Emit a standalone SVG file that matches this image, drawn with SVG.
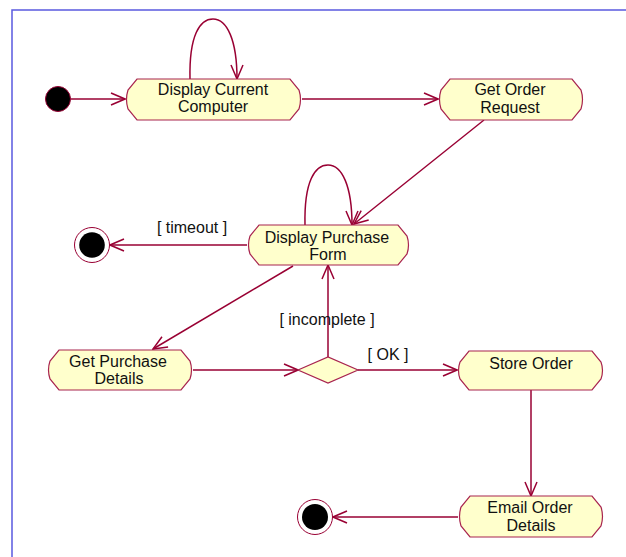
<svg xmlns="http://www.w3.org/2000/svg" width="626" height="557" viewBox="0 0 626 557">
  <style>
    .node { fill: #ffffcc; stroke: #a8244f; stroke-width: 1.2; }
    .lbl { font-family: "Liberation Sans", Arial, sans-serif; font-size: 16px; fill: #111; text-anchor: middle; }
    .edge { fill: none; stroke: #990033; stroke-width: 1.5; }
    .edge-end { marker-end: url(#open); }
  </style>
  <defs>
    <marker id="open" viewBox="0 0 16 14" refX="15" refY="7" markerWidth="16" markerHeight="14" markerUnits="userSpaceOnUse" orient="auto">
      <path d="M1,1 L15,7 L1,13" fill="none" stroke="#990033" stroke-width="1.5"/>
    </marker>
  </defs>
  <rect width="626" height="557" fill="#ffffff"/>
  <!-- diagram frame (only top and left edges fall inside the page) -->
  <rect x="12" y="10" width="700" height="700" fill="none" stroke="#5a5ae0" stroke-width="1.5"/>

  <g id="connectors">
    <path class="edge edge-end" d="M71,99 H125"/>
    <path class="edge edge-end" d="M302,99 H438"/>
    <path class="edge edge-end" d="M190,79 C189,35 200,19 213,19 C227,19 237,40 237,79"/>
    <path class="edge edge-end" d="M484,120 L354,224"/>
    <path class="edge edge-end" d="M305,225 C304,181 315,165 328,165 C342,165 352,186 352,225"/>
    <path class="edge edge-end" d="M247,245 H110"/>
    <path class="edge edge-end" d="M293,266 L153,349"/>
    <path class="edge edge-end" d="M193,370 H298"/>
    <path class="edge edge-end" d="M328,357 V265"/>
    <path class="edge edge-end" d="M358,370 H457"/>
    <path class="edge edge-end" d="M531,390 V496"/>
    <path class="edge edge-end" d="M458,517 H333"/>
    <text class="lbl" x="192" y="233">[ timeout ]</text>
    <text class="lbl" x="327" y="325">[ incomplete ]</text>
    <text class="lbl" x="388" y="360">[ OK ]</text>
  </g>

  <g id="start">
    <circle cx="58" cy="99" r="12.5" fill="#000" stroke="#990033" stroke-width="1"/>
  </g>

  <g id="display-current-computer">
    <path class="node" d="M137,79 H290 L299,90 Q302,99.5 299,109 L290,120 H137 L128,109 Q125,99.5 128,90 Z"/>
    <text class="lbl" x="213" y="95">Display Current</text>
    <text class="lbl" x="213" y="112">Computer</text>
  </g>

  <g id="get-order-request">
    <path class="node" d="M450,79 H572 L581,90 Q584,99.5 581,109 L572,120 H450 L441,109 Q438,99.5 441,90 Z"/>
    <text class="lbl" x="510" y="95">Get Order</text>
    <text class="lbl" x="510" y="112.5">Request</text>
  </g>

  <g id="display-purchase-form">
    <path class="node" d="M259,225 H398 L407,236 Q410,245 407,254 L398,265 H259 L250,254 Q247,245 250,236 Z"/>
    <text class="lbl" x="327" y="243">Display Purchase</text>
    <text class="lbl" x="328" y="260">Form</text>
  </g>

  <g id="final-timeout">
    <circle cx="92" cy="245" r="17.5" fill="#fff" stroke="#990033" stroke-width="1"/>
    <circle cx="92" cy="245" r="12.8" fill="#000"/>
  </g>

  <g id="get-purchase-details">
    <path class="node" d="M59,350 H181 L190,361 Q193,370 190,379 L181,390 H59 L50,379 Q47,370 50,361 Z"/>
    <text class="lbl" x="118" y="367">Get Purchase</text>
    <text class="lbl" x="119" y="384">Details</text>
  </g>

  <g id="decision">
    <path class="node" d="M298,370 L328,357 L358,370 L328,383 Z"/>
  </g>

  <g id="store-order">
    <path class="node" d="M469,351 H592 L601,362 Q604,370.5 601,379 L592,390 H469 L460,379 Q457,370.5 460,362 Z"/>
    <text class="lbl" x="531" y="369">Store Order</text>
  </g>

  <g id="email-order-details">
    <path class="node" d="M470,496 H592 L601,507 Q604,516.5 601,526 L592,537 H470 L461,526 Q458,516.5 461,507 Z"/>
    <text class="lbl" x="530" y="513">Email Order</text>
    <text class="lbl" x="531" y="531">Details</text>
  </g>

  <g id="final-done">
    <circle cx="315" cy="517" r="17.5" fill="#fff" stroke="#990033" stroke-width="1"/>
    <circle cx="315" cy="517" r="13" fill="#000"/>
  </g>
</svg>
